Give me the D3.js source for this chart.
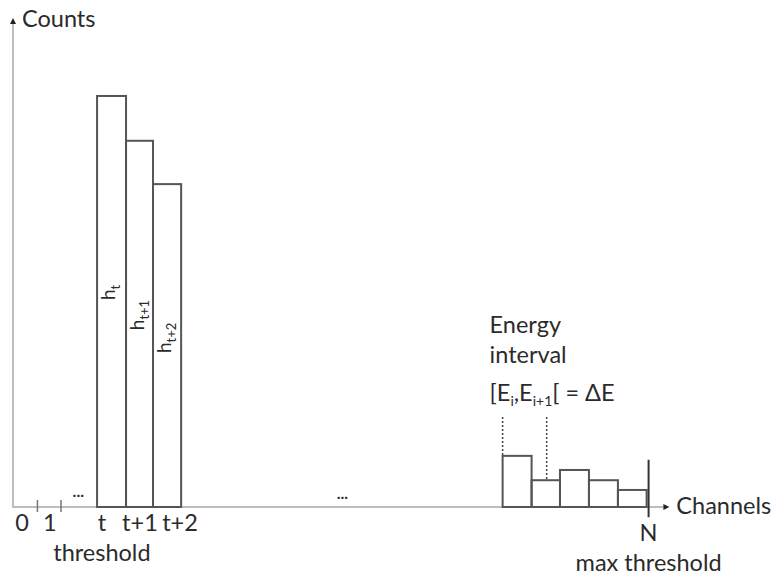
<!DOCTYPE html>
<html><head><meta charset="utf-8">
<script src="https://cdn.jsdelivr.net/npm/d3@7"></script>
<style>body{margin:0;background:#fff}text{font-family:Lato,"Open Sans",sans-serif;fill:#2b2b2b}</style>
</head><body><svg id="c" width="775" height="575"></svg>
<script>
// Data (channel units on x, counts on y)
const mainLabels = ["t", "t+1", "t+2"];
const mainLabelPos = [3.13, 4.47, 5.88];
const mainEdges = [2.96, 3.98, 4.93, 5.92];
const mainCounts = [84.4, 75.2, 66.3];
const hLabels = [["h", "t"], ["h", "t+1"], ["h", "t+2"]];
const hLabelBottoms = [42.5, 36.3, 31.6];
const tailEdges = [17.24, 18.26, 19.26, 20.28, 21.30, 22.31];
const tailCounts = [10.5, 5.5, 7.6, 5.5, 3.5];
const lowTicks = [0.86, 1.69];
const lowLabels = ["0", "1"];
const lowLabelPos = [0.32, 1.3];
const nPos = 22.38;
const dottedPos = [17.24, 18.79];
const dottedTops = [18.5, 18.5];
const dottedBottoms = [10.5, 5.5];

const svg = d3.select("#c");
const x = d3.scaleLinear().domain([0, 1]).range([13, 41.4]);
const y = d3.scaleLinear().domain([0, 100]).range([507, 20]);
const axisCol = "#bdbdbd", barCol = "#555";
const FS = 23.5;

// axes
svg.append("line").attr("x1", x(0)).attr("x2", x(0)).attr("y1", y(0)+1).attr("y2", y(100)+3)
  .attr("stroke", axisCol).attr("stroke-width", 2);
svg.append("path").attr("d", `M${x(0)-3},${y(100)+4}L${x(0)},${y(100)-2}L${x(0)+3},${y(100)+4}Z`).attr("fill", "#222");
const xEnd = x(22.9);
svg.append("line").attr("x1", x(0)-1).attr("x2", xEnd).attr("y1", y(0)).attr("y2", y(0))
  .attr("stroke", axisCol).attr("stroke-width", 2);
svg.append("path").attr("d", `M${xEnd},${y(0)-3}L${xEnd+6},${y(0)}L${xEnd},${y(0)+3}Z`).attr("fill", "#222");
svg.append("text").attr("x", x(0)+9).attr("y", 27).attr("font-size", FS).text("Counts");
svg.append("text").attr("x", xEnd+13).attr("y", y(0)+7).attr("font-size", FS).text("Channels");

// low ticks
svg.selectAll(".lt").data(lowTicks).enter().append("line")
  .attr("x1", d => x(d)).attr("x2", d => x(d)).attr("y1", y(0)-7).attr("y2", y(0)+5)
  .attr("stroke", "#777").attr("stroke-width", 1.5);
svg.selectAll(".ll").data(lowLabels).enter().append("text")
  .attr("x", (d, i) => x(lowLabelPos[i])).attr("y", 531).attr("text-anchor", "middle").attr("font-size", FS).text(d => d);
svg.append("text").attr("x", x(2.3)).attr("y", 497).attr("text-anchor", "middle").attr("font-size", 16).attr("font-weight", "bold").text("...");
svg.append("text").attr("x", x(11.6)).attr("y", 499).attr("text-anchor", "middle").attr("font-size", 16).attr("font-weight", "bold").text("...");

// main bars
svg.selectAll(".mb").data(mainCounts).enter().append("rect")
  .attr("x", (d, i) => x(mainEdges[i])).attr("width", (d, i) => x(mainEdges[i+1]) - x(mainEdges[i]))
  .attr("y", d => y(d)).attr("height", d => y(0) - y(d))
  .attr("fill", "none").attr("stroke", barCol).attr("stroke-width", 2);
svg.selectAll(".ml").data(mainLabels).enter().append("text")
  .attr("x", (d, i) => x(mainLabelPos[i])).attr("y", 531)
  .attr("text-anchor", "middle").attr("font-size", FS).text(d => d);
svg.append("text").attr("x", x(mainLabelPos[0])).attr("y", 561).attr("text-anchor", "middle").attr("font-size", FS).text("threshold");

// h labels (rotated)
hLabels.forEach((lab, i) => {
  const cx = x(mainEdges[i]) + 18, cy = y(hLabelBottoms[i]);
  const t = svg.append("text").attr("transform", `translate(${cx},${cy}) rotate(-90)`).attr("font-size", 19);
  t.append("tspan").text(lab[0]);
  t.append("tspan").attr("dy", 5).attr("font-size", 13).text(lab[1]);
});

// tail bars
svg.selectAll(".tb").data(tailCounts).enter().append("rect")
  .attr("x", (d, i) => x(tailEdges[i])).attr("width", (d, i) => x(tailEdges[i+1]) - x(tailEdges[i]))
  .attr("y", d => y(d)).attr("height", d => y(0) - y(d))
  .attr("fill", "none").attr("stroke", barCol).attr("stroke-width", 2);
svg.append("line").attr("x1", x(nPos)).attr("x2", x(nPos)).attr("y1", y(9.7)).attr("y2", y(-2.1))
  .attr("stroke", "#333").attr("stroke-width", 2);
svg.append("text").attr("x", x(nPos)).attr("y", 541).attr("text-anchor", "middle").attr("font-size", FS).text("N");
svg.append("text").attr("x", x(nPos)).attr("y", 571).attr("text-anchor", "middle").attr("font-size", FS).text("max threshold");

// dotted
svg.selectAll(".dl").data(dottedPos).enter().append("line")
  .attr("x1", d => x(d)).attr("x2", d => x(d)).attr("y1", (d, i) => y(dottedTops[i])).attr("y2", (d, i) => y(dottedBottoms[i]))
  .attr("stroke", "#444").attr("stroke-width", 1.5).attr("stroke-dasharray", "2,2");

// Energy interval annotation
const ax = x(tailEdges[0]) - 13;
svg.append("text").attr("x", ax).attr("y", 333).attr("font-size", FS).text("Energy");
svg.append("text").attr("x", ax).attr("y", 363).attr("font-size", FS).text("interval");
const e = svg.append("text").attr("x", ax).attr("y", 401).attr("font-size", FS);
e.append("tspan").text("[E");
e.append("tspan").attr("dy", 5).attr("font-size", 14).text("i");
e.append("tspan").attr("dy", -5).text(",E");
e.append("tspan").attr("dy", 5).attr("font-size", 14).text("i+1");
e.append("tspan").attr("dy", -5).text("[ = ΔE");
</script></body></html>
